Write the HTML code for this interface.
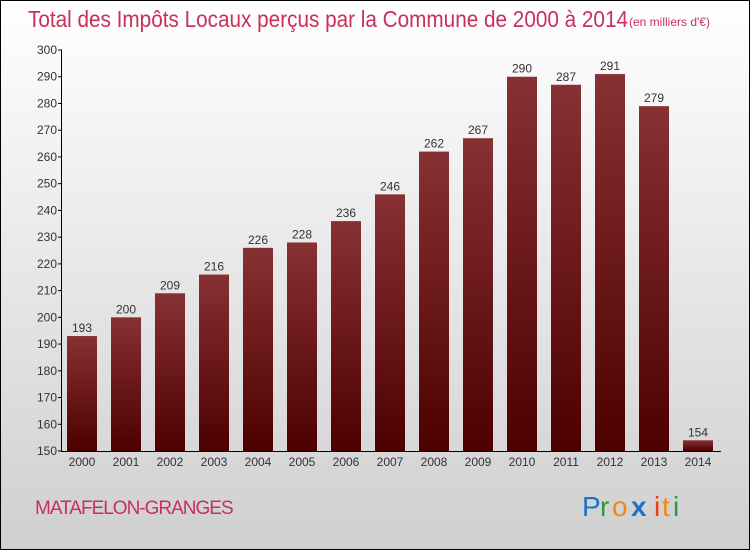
<!DOCTYPE html>
<html><head><meta charset="utf-8"><style>
body{margin:0;}
#c{width:750px;height:550px;position:relative;font-family:"Liberation Sans",sans-serif;}
</style></head><body>
<div id="c">
<svg width="750" height="550" xmlns="http://www.w3.org/2000/svg" id="svg">
<defs>
<linearGradient id="bg" x1="0" y1="0" x2="0" y2="1"><stop offset="0" stop-color="#ffffff"/><stop offset="1" stop-color="#cfcfcf"/></linearGradient>
<linearGradient id="bar" x1="0" y1="0" x2="0" y2="1"><stop offset="0" stop-color="#873134"/><stop offset="1" stop-color="#4d0000"/></linearGradient>
</defs>
<rect x="0.5" y="0.5" width="749" height="549" fill="url(#bg)" stroke="#000"/>
<text x="28" y="27" font-size="23" fill="#c8305a" textLength="600" lengthAdjust="spacingAndGlyphs">Total des Impôts Locaux perçus par la Commune de 2000 à 2014</text>
<text x="629" y="26" font-size="12" fill="#c8305a">(en milliers d'€)</text>
<text x="35" y="514" font-size="19" fill="#c8305a" letter-spacing="-1">MATAFELON-GRANGES</text>
<g font-size="28" font-family="Liberation Sans,sans-serif">
<text x="582" y="516" fill="#1a73c8">P</text><text x="600" y="516" fill="#2a9a3a">r</text><text x="612" y="516" fill="#f08a10">o</text><text x="631" y="516" fill="#1a73c8" font-weight="bold">x</text><text x="654" y="516" fill="#e84010">i</text><text x="662" y="516" fill="#f08a10">t</text><text x="673" y="516" fill="#2a9a3a">i</text>
</g>
<g id="plot"></g>
</svg>
</div>
<script>
const categories=["2000","2001","2002","2003","2004","2005","2006","2007","2008","2009","2010","2011","2012","2013","2014"];
const values=[193,200,209,216,226,228,236,246,262,267,290,287,291,279,154];
const yTicks=[150,160,170,180,190,200,210,220,230,240,250,260,270,280,290,300];
const NS="http://www.w3.org/2000/svg";
const g=document.getElementById('plot');
const y=v=>451-(v-150)*(401/150);
const x=i=>67+i*44;
function mk(t,a,txt){const e=document.createElementNS(NS,t);for(const k in a)e.setAttribute(k,a[k]);if(txt!==undefined)e.textContent=txt;g.appendChild(e);return e;}
values.forEach((v,i)=>{
 const r=mk('rect',{x:x(i),y:y(v),width:30,height:451-y(v),fill:'url(#bar)'});
 
 
 const t=mk('text',{x:x(i)+15,y:y(v)-4,'text-anchor':'middle','font-size':12,fill:'#333'},v);
 
 
 const c=mk('text',{x:x(i)+15,y:466,'text-anchor':'middle','font-size':12,fill:'#333'},categories[i]);
 
 
});
yTicks.forEach(v=>{
 const l=mk('line',{x1:58,x2:62,y1:y(v),y2:y(v),stroke:'#000'});
 
 
 const t=mk('text',{x:57,y:y(v)+4,'text-anchor':'end','font-size':12,fill:'#333'},v);
 
 
});
const ya=mk('line',{x1:61.5,x2:61.5,y1:50,y2:451,stroke:'#000'});


const xa=mk('line',{x1:61,x2:721,y1:451.5,y2:451.5,stroke:'#000'});


</script>
</body></html>
